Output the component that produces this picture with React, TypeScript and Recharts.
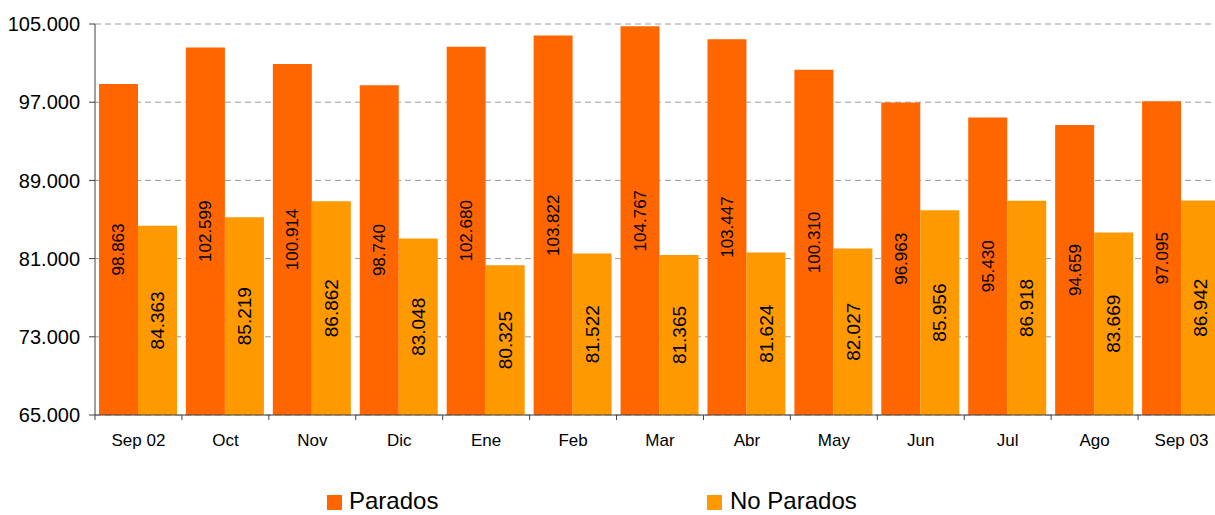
import React from 'react';
import { BarChart, Bar, XAxis, YAxis, CartesianGrid, LabelList } from 'recharts';

const categories = ['Sep 02', 'Oct', 'Nov', 'Dic', 'Ene', 'Feb', 'Mar', 'Abr', 'May', 'Jun', 'Jul', 'Ago', 'Sep 03'];
const parados = [98.863, 102.599, 100.914, 98.74, 102.68, 103.822, 104.767, 103.447, 100.31, 96.963, 95.43, 94.659, 97.095];
const noParados = [84.363, 85.219, 86.862, 83.048, 80.325, 81.522, 81.365, 81.624, 82.027, 85.956, 86.918, 83.669, 86.942];
const yTicks = [65, 73, 81, 89, 97, 105];

const data = categories.map((c, i) => ({ name: c, parados: parados[i], noParados: noParados[i] }));

const FONT = '"Liberation Sans", Arial, sans-serif';
const AXIS = '#404040';

const fmt = (v: number) => v.toFixed(3);

const makeLabel = (fs: number) => (props: any) => {
  const { x, y, width, height, value } = props;
  const cx = Number(x) + Number(width) / 2;
  const cy = Number(y) + Number(height) / 2;
  return (
    <text
      x={cx}
      y={cy}
      dy={fs * 0.35}
      transform={`rotate(-90 ${cx} ${cy})`}
      textAnchor="middle"
      fontSize={fs}
      fontFamily={FONT}
      fill="#000"
    >
      {fmt(Number(value))}
    </text>
  );
};

const XTick = (props: any) => {
  const { x, y, payload } = props;
  const half = payload && payload.offset ? payload.offset : 43.5;
  return (
    <g>
      <line x1={x - half} x2={x - half} y1={y} y2={y + 5} stroke={AXIS} />
      <text x={x} y={y + 31} textAnchor="middle" fontSize={17} fontFamily={FONT} fill="#000">
        {payload.value}
      </text>
    </g>
  );
};

export default function App() {
  return (
    <div style={{ position: 'absolute', left: 0, top: 0, width: 1215, height: 515, overflow: 'hidden', background: '#fff', fontFamily: FONT }}>
      <BarChart
        width={1230}
        height={515}
        data={data}
        margin={{ top: 24, right: 5, left: 0, bottom: 60 }}
        barGap={0}
        barCategoryGap={4}
      >
        <CartesianGrid vertical={false} stroke="#9a9a9a" strokeDasharray="6 4" />
        <XAxis
          dataKey="name"
          height={40}
          axisLine={{ stroke: AXIS }}
          tickLine={false}
          tickSize={0}
          tickMargin={0}
          interval={0}
          tick={<XTick />}
        />
        <YAxis
          width={95}
          domain={[65, 105]}
          ticks={yTicks}
          allowDataOverflow
          tickFormatter={fmt}
          axisLine={{ stroke: AXIS }}
          tickLine={{ stroke: AXIS }}
          tickSize={6}
          tickMargin={9}
          tick={{ fontSize: 20, fill: '#000', fontFamily: FONT }}
        />
        <Bar dataKey="parados" fill="#FF6600" isAnimationActive={false}>
          <LabelList dataKey="parados" content={makeLabel(17)} />
        </Bar>
        <Bar dataKey="noParados" fill="#FF9900" isAnimationActive={false}>
          <LabelList dataKey="noParados" content={makeLabel(19)} />
        </Bar>
      </BarChart>

      {/* Legend */}
      <div style={{ position: 'absolute', top: 489, left: 327, display: 'flex', alignItems: 'center', fontSize: 24, lineHeight: '24px', color: '#000' }}>
        <div style={{ display: 'flex', alignItems: 'center', width: 380 }}>
          <div style={{ width: 15, height: 15, background: '#FF6600', marginRight: 7, marginTop: 2 }}></div>
          <span>Parados</span>
        </div>
        <div style={{ display: 'flex', alignItems: 'center' }}>
          <div style={{ width: 15, height: 15, background: '#FF9900', marginRight: 8, marginTop: 2 }}></div>
          <span>No Parados</span>
        </div>
      </div>
    </div>
  );
}
